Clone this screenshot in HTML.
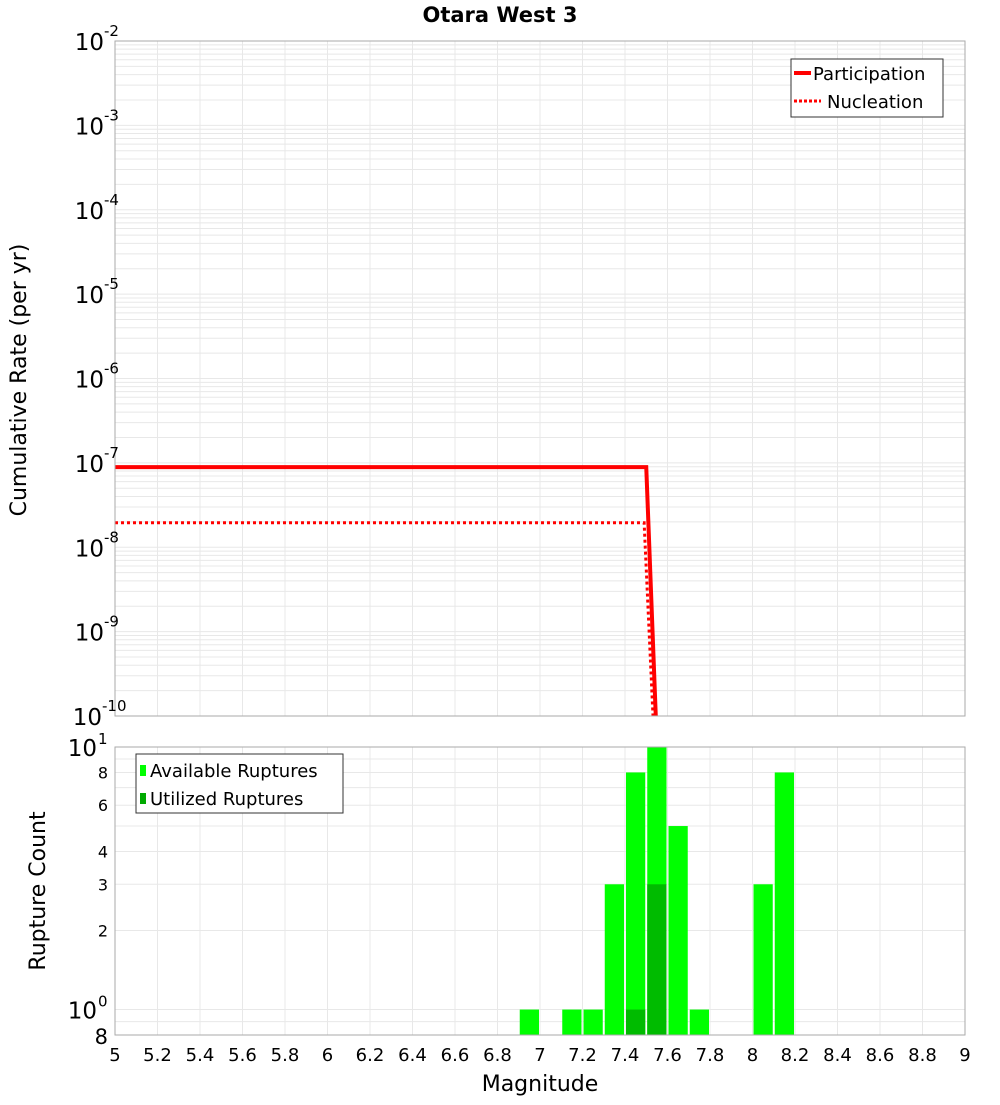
<!DOCTYPE html>
<html><head><meta charset="utf-8"><style>
body{margin:0;background:#fff;font-family:"Liberation Sans","DejaVu Sans",sans-serif}
svg text{font-family:"DejaVu Sans","Liberation Sans",sans-serif}
</style></head><body>
<svg id="c" width="1000" height="1100" xmlns="http://www.w3.org/2000/svg"></svg>
<script>
const partX=[5,7.5,7.56];
const partY=[8.9e-8,8.9e-8,1e-11];
const nuclX=[5,7.49,7.55];
const nuclY=[1.95e-8,1.95e-8,1e-11];
const binCenters=[6.95,7.15,7.25,7.35,7.45,7.55,7.65,7.75,8.05,8.15];
const available=[1,1,1,3,8,10,5,1,3,8];
const utilized=[0,0,0,0,1,3,0,0,0,0];
const xTicks=[5,5.2,5.4,5.6,5.8,6,6.2,6.4,6.6,6.8,7,7.2,7.4,7.6,7.8,8,8.2,8.4,8.6,8.8,9];
const topExps=[-2,-3,-4,-5,-6,-7,-8,-9,-10];
const botTicks=[8,6,4,3,2];

const NS="http://www.w3.org/2000/svg",svg=document.getElementById('c');
function el(t,a,p){const e=document.createElementNS(NS,t);for(const k in a)e.setAttribute(k,a[k]);(p||svg).appendChild(e);return e;}
const L=115,R=965,T1=41,B1=716,T2=747,B2=1035;
const X=m=>L+(m-5)/4*(R-L);
const Y1=v=>T1+(-2-Math.log10(v))/8*(B1-T1);
const lb=Math.log10(0.8);
const Y2=v=>T2+(1-Math.log10(v))/(1-lb)*(B2-T2);

// title
let t=el('text',{x:500,y:22,'text-anchor':'middle','font-size':21,'font-weight':'bold'});t.textContent='Otara West 3';


// top grid
const g1=el('g',{});
for(let e=-10;e<-2;e++)for(let k=1;k<10;k++){const y=Y1(k*Math.pow(10,e));el('line',{x1:L,x2:R,y1:y,y2:y,stroke:'#e8e8e8','stroke-width':1},g1);}
xTicks.forEach(m=>el('line',{x1:X(m),x2:X(m),y1:T1,y2:B1,stroke:'#e8e8e8'},g1));
// bottom grid
const g2=el('g',{});
[0.9,1,2,3,4,5,6,7,8,9].forEach(v=>el('line',{x1:L,x2:R,y1:Y2(v),y2:Y2(v),stroke:'#e8e8e8'},g2));
xTicks.forEach(m=>el('line',{x1:X(m),x2:X(m),y1:T2,y2:B2,stroke:'#e8e8e8'},g2));

// lines
el('clipPath',{id:'cp1'}).appendChild(Object.assign(document.createElementNS(NS,'rect')));
const cp=document.getElementById('cp1').firstChild;cp.setAttribute('x',L);cp.setAttribute('y',T1);cp.setAttribute('width',R-L);cp.setAttribute('height',B1-T1);
const pp=el('polyline',{points:partX.map((x,i)=>X(x)+','+Y1(partY[i])).join(' '),fill:'none',stroke:'#ff0000','stroke-width':4,'clip-path':'url(#cp1)'});

const np=el('polyline',{points:nuclX.map((x,i)=>X(x)+','+Y1(nuclY[i])).join(' '),fill:'none',stroke:'#ff0000','stroke-width':3,'stroke-dasharray':'3,3','clip-path':'url(#cp1)'});


// bars
const bw=X(5.1)-X(5);
binCenters.forEach((c,i)=>{
 const r=el('rect',{x:X(c)-bw/2+1,y:Y2(available[i]),width:bw-2,height:B2-Y2(available[i]),fill:'#00ff00'});
 
 if(utilized[i]>0){const u=el('rect',{x:X(c)-bw/2+1,y:Y2(utilized[i]),width:bw-2,height:B2-Y2(utilized[i]),fill:'#00bb00'});
 }
});

// frames
el('rect',{x:L,y:T1,width:R-L,height:B1-T1,fill:'none',stroke:'#aaa'});
el('rect',{x:L,y:T2,width:R-L,height:B2-T2,fill:'none',stroke:'#aaa'});

// top y labels
topExps.forEach(e=>{const y=Y1(Math.pow(10,e));
 const tx=el('text',{x:e==-10?102:104,y:y+9,'text-anchor':'end','font-size':23});tx.textContent='10';
 
 const s=el('text',{x:e==-10?102:104,y:y-5,'font-size':15});s.textContent=String(e);
});
// bottom y labels
let a=el('text',{x:97,y:Y2(10)+9,'text-anchor':'end','font-size':23});a.textContent='10';
a=el('text',{x:98,y:Y2(10)-3,'font-size':15});a.textContent='1';
a=el('text',{x:97,y:Y2(1)+9,'text-anchor':'end','font-size':23});a.textContent='10';
a=el('text',{x:98,y:Y2(1)-3,'font-size':15});a.textContent='0';
a=el('text',{x:108,y:B2+9,'text-anchor':'end','font-size':21});a.textContent='8';
botTicks.forEach(v=>{const q=el('text',{x:108,y:Y2(v)+6,'text-anchor':'end','font-size':16});q.textContent=String(v);
 });
// x labels
xTicks.forEach(m=>{const q=el('text',{x:X(m),y:1061,'text-anchor':'middle','font-size':18});q.textContent=String(m);
 });
a=el('text',{x:540,y:1091,'text-anchor':'middle','font-size':22});a.textContent='Magnitude';

a=el('text',{x:0,y:0,'text-anchor':'middle','font-size':22,transform:'translate(26,380) rotate(-90)'});a.textContent='Cumulative Rate (per yr)';

a=el('text',{x:0,y:0,'text-anchor':'middle','font-size':22,transform:'translate(45,891) rotate(-90)'});a.textContent='Rupture Count';


// legends
const lg=el('g',{});
el('rect',{x:791,y:59,width:152,height:58,fill:'#fff',stroke:'#333'},lg);
el('line',{x1:794,x2:811,y1:73,y2:73,stroke:'#f00','stroke-width':4},lg);
el('line',{x1:794,x2:821,y1:101,y2:101,stroke:'#f00','stroke-width':3,'stroke-dasharray':'3,2'},lg);
a=el('text',{x:813,y:80,'font-size':18},lg);a.textContent='Participation';
a=el('text',{x:827,y:108,'font-size':18},lg);a.textContent='Nucleation';
const lg2=el('g',{});
el('rect',{x:136,y:754,width:207,height:59,fill:'#fff',stroke:'#333'},lg2);
el('rect',{x:140,y:765,width:6,height:11,fill:'#00ff00'},lg2);
el('rect',{x:140,y:793,width:6,height:11,fill:'#00aa00'},lg2);
a=el('text',{x:150,y:777,'font-size':18},lg2);a.textContent='Available Ruptures';
a=el('text',{x:150,y:805,'font-size':18},lg2);a.textContent='Utilized Ruptures';
</script>
</body></html>
